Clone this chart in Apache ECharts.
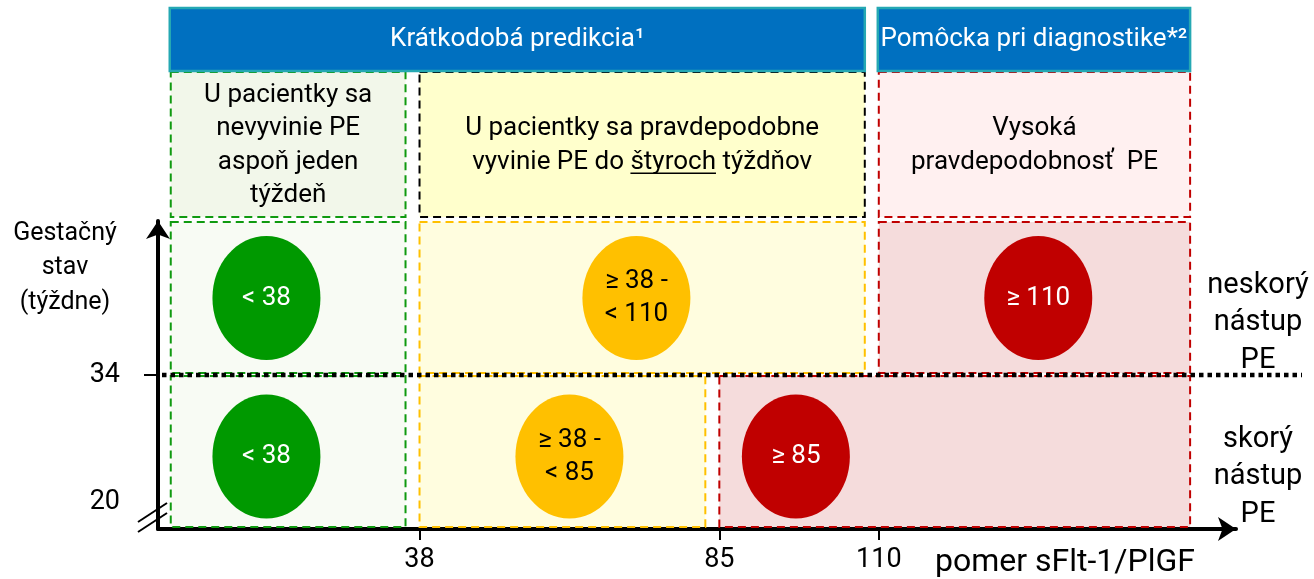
<!DOCTYPE html>
<html><head><meta charset="utf-8">
<script src="https://cdn.jsdelivr.net/npm/echarts@6/dist/echarts.min.js"></script>
<style>html,body{margin:0;padding:0;background:#fff}#c{width:1314px;height:579px}</style>
</head><body><div id="c"></div>
<script>
// ---- data ----
const ratioTicks = [38, 85, 110];
const weekLabels = [20, 34];
const weekTicks = [34];
const weekSplit = 34;
const weekRange = [17, 51];
const ratioAxisRange = [-3, 166];
const lateZones = [[-1, 38], [38, 110], [110, 161]];
const earlyZones = [[-1, 38], [38, 85], [85, 161]];
const zoneTones = ['green', 'yellow', 'red'];
const lateBadges = ['< 38', '≥ 38 -\n< 110', '≥ 110'];
const earlyBadges = ['< 38', '≥ 38 -\n< 85', '≥ 85'];
const lateBadgeAt = [14, 72, 135];
const earlyBadgeAt = [14, 61.5, 97];
const lateBadgeWeek = 42.5;
const earlyBadgeWeek = 25;
const headerSpans = [[-1, 110], [110, 161]];
const headerTexts = ['Krátkodobá predikcia¹', 'Pomôcka pri diagnostike*²'];
const descSpans = [[-1, 38], [38, 110], [110, 161]];
const descTexts = ['U pacientky sa\nnevyvinie PE\naspoň jeden\ntýždeň', 'U pacientky sa pravdepodobne\nvyvinie PE do štyroch týždňov', 'Vysoká\npravdepodobnosť  PE'];
const descTones = ['green', 'black', 'red'];
const underlinedWord = 'štyroch';
const rowLabels = ['neskorý\nnástup\nPE', 'skorý\nnástup\nPE'];
const yAxisTitle = 'Gestačný\nstav\n(týždne)';
const xAxisTitle = 'pomer sFlt-1/PlGF';

// ---- styles ----
const FONT = 'Roboto, "Noto Sans", sans-serif';
const TONES = {
  green: {border: '#109a10', descFill: '#f2f7ea', plotFill: '#f8fbf4', badge: '#009900', text: '#ffffff'},
  yellow: {border: '#ffc000', descFill: '#ffffcc', plotFill: '#fffddf', badge: '#ffc000', text: '#000000'},
  red: {border: '#c00000', descFill: '#fff0f0', plotFill: '#f5dcdc', badge: '#c00000', text: '#ffffff'},
  black: {border: '#000000', descFill: '#ffffcc'}
};
const DASH = [8, 5];
const RIGHT_GAP = 14;

// build zone + badge items
const zoneItems = [], badgeItems = [];
[[lateZones, weekSplit, weekRange[1], lateBadges, lateBadgeAt, lateBadgeWeek],
 [earlyZones, weekRange[0], weekSplit, earlyBadges, earlyBadgeAt, earlyBadgeWeek]].forEach(r => {
  r[0].forEach((z, i) => {
    zoneItems.push({value: [z[0], r[1], z[1], r[2]], tone: zoneTones[i]});
    badgeItems.push({value: [r[4][i], r[5]], tone: zoneTones[i], text: r[3][i]});
  });
});

function measure(text, size) {
  const c = document.createElement('canvas').getContext('2d');
  c.font = size + 'px Roboto';
  return c.measureText(text).width;
}

const chart = echarts.init(document.getElementById('c'), null, {renderer: 'canvas'});
chart.setOption({
  animation: false,
  backgroundColor: '#ffffff',
  grid: {left: 158, right: 78, top: 221, bottom: 50, containLabel: false, outerBoundsMode: 'none'},
  xAxis: {
    type: 'value', min: ratioAxisRange[0], max: ratioAxisRange[1],
    splitLine: {show: false},
    axisLine: {show: true, onZero: false, symbol: ['none', 'arrow'], symbolSize: [18, 18], lineStyle: {color: '#000', width: 4}},
    axisTick: {show: true, customValues: ratioTicks, length: 11, lineStyle: {color: '#000', width: 2}},
    axisLabel: {show: true, customValues: ratioTicks, margin: 18, fontSize: 27, color: '#000', fontFamily: FONT}
  },
  yAxis: {
    type: 'value', min: weekRange[0], max: weekRange[1],
    splitLine: {show: false},
    axisLine: {show: true, onZero: false, symbol: ['none', 'arrow'], symbolSize: [18, 18], lineStyle: {color: '#000', width: 4}},
    axisTick: {show: true, customValues: weekTicks, length: 14, lineStyle: {color: '#000', width: 2}},
    axisLabel: {show: true, customValues: weekLabels, margin: 38, fontSize: 27, color: '#000', fontFamily: FONT}
  },
  graphic: [
    {type: 'text', x: 65, y: 268, z: 10, style: {text: yAxisTitle, fontSize: 25, lineHeight: 34.5, fontFamily: FONT, fill: '#000', align: 'center', verticalAlign: 'middle'}},
    {type: 'text', x: 1065, y: 563, z: 10, style: {text: xAxisTitle, fontSize: 32, fontFamily: FONT, fill: '#000', align: 'center', verticalAlign: 'middle'}}
  ],
  series: [
    { // zones in the chart area
      type: 'custom', z: 1, clip: false,
      data: zoneItems.map(d => d.value),
      renderItem(params, api) {
        const it = zoneItems[params.dataIndex];
        const t = TONES[it.tone];
        const p0 = api.coord([api.value(0), api.value(3)]);
        const p1 = api.coord([api.value(2), api.value(1)]);
        const x = p0[0], y = p0[1] + 1;
        const w = p1[0] - RIGHT_GAP - x, h = p1[1] - 2 - y;
        return {type: 'rect', shape: {x, y, width: w, height: h},
          style: {fill: t.plotFill, stroke: t.border, lineWidth: 2, lineDash: DASH}};
      }
    },
    { // description boxes above the chart
      type: 'custom', z: 2, clip: false,
      data: descSpans.map(s => [s[0], s[1]]),
      renderItem(params, api) {
        const i = params.dataIndex;
        const t = TONES[descTones[i]];
        const top = api.coord([0, weekRange[1]])[1];
        const x0 = api.coord([api.value(0), weekRange[1]])[0];
        const x1 = api.coord([api.value(1), weekRange[1]])[0] - RIGHT_GAP;
        const y0 = top - 149, y1 = top - 4;
        const cx = (x0 + x1) / 2, cy = (y0 + y1) / 2 + 1;
        const children = [
          {type: 'rect', shape: {x: x0, y: y0, width: x1 - x0, height: y1 - y0},
            style: {fill: t.descFill, stroke: t.border, lineWidth: 2, lineDash: DASH}},
          {type: 'text', style: {text: descTexts[i], x: cx, y: cy, fill: '#000', fontSize: 26, lineHeight: 33.5,
            fontFamily: FONT, align: 'center', verticalAlign: 'middle'}}
        ];
        const lines = descTexts[i].split('\n');
        lines.forEach((ln, li) => {
          const k = ln.indexOf(underlinedWord);
          if (k >= 0) {
            const full = measure(ln, 26), pre = measure(ln.slice(0, k), 26), ww = measure(underlinedWord, 26);
            const ly = cy + (li - (lines.length - 1) / 2) * 33.5 + 11;
            const lx = cx - full / 2 + pre;
            children.push({type: 'line', shape: {x1: lx, y1: ly, x2: lx + ww, y2: ly}, style: {stroke: '#000', lineWidth: 1.6}});
          }
        });
        return {type: 'group', children};
      }
    },
    { // header bars
      type: 'custom', z: 3, clip: false,
      data: headerSpans.map(s => [s[0], s[1]]),
      renderItem(params, api) {
        const i = params.dataIndex;
        const top = api.coord([0, weekRange[1]])[1];
        const x0 = api.coord([api.value(0), weekRange[1]])[0] - 1;
        const x1 = api.coord([api.value(1), weekRange[1]])[0] - RIGHT_GAP;
        const y0 = top - 213, y1 = top - 150;
        return {type: 'group', children: [
          {type: 'rect', shape: {x: x0, y: y0, width: x1 - x0, height: y1 - y0},
            style: {fill: '#0070c0', stroke: '#25a8b3', lineWidth: 2.5}},
          {type: 'text', style: {text: headerTexts[i], x: (x0 + x1) / 2, y: (y0 + y1) / 2, fill: '#fff', fontSize: 26,
            fontFamily: FONT, align: 'center', verticalAlign: 'middle'}}
        ]};
      }
    },
    { // dotted 34-week split line
      type: 'custom', z: 4, clip: false,
      data: [[ratioAxisRange[0], weekSplit]],
      renderItem(params, api) {
        const p = api.coord([api.value(0), api.value(1)]);
        return {type: 'line', shape: {x1: p[0] + 4, y1: p[1], x2: api.getWidth() - 12, y2: p[1]},
          style: {stroke: '#000', lineWidth: 4.5, lineDash: [4.5, 4]}};
      }
    },
    { // axis break mark
      type: 'custom', z: 5, clip: false,
      data: [[ratioAxisRange[0], weekRange[0]]],
      renderItem(params, api) {
        const p = api.coord([api.value(0), api.value(1)]);
        const seg = dy => ({type: 'line', shape: {x1: p[0] - 20, y1: p[1] + dy, x2: p[0] + 9, y2: p[1] + dy - 19},
          style: {stroke: '#000', lineWidth: 2}});
        return {type: 'group', children: [seg(-7), seg(3)]};
      }
    },
    { // row labels on the right
      type: 'custom', z: 5, clip: false,
      data: [[ratioAxisRange[1], (weekSplit + weekRange[1]) / 2], [ratioAxisRange[1], (weekRange[0] + weekSplit) / 2]],
      renderItem(params, api) {
        const p = api.coord([api.value(0), api.value(1)]);
        return {type: 'text', style: {text: rowLabels[params.dataIndex], x: 1258, y: p[1] + 25, fill: '#000',
          fontSize: 29, lineHeight: 37.5, fontFamily: FONT, align: 'center', verticalAlign: 'middle'}};
      }
    },
    { // badges
      type: 'custom', z: 6, clip: false,
      data: badgeItems.map(d => d.value),
      renderItem(params, api) {
        const it = badgeItems[params.dataIndex];
        const t = TONES[it.tone];
        const p = api.coord([api.value(0), api.value(1)]);
        return {type: 'group', children: [
          {type: 'ellipse', shape: {cx: p[0], cy: p[1], rx: 54, ry: 62}, style: {fill: t.badge}},
          {type: 'text', style: {text: it.text, x: p[0], y: p[1], fill: t.text, fontSize: 26, lineHeight: 33,
            fontFamily: FONT, align: 'center', verticalAlign: 'middle'}}
        ]};
      }
    }
  ]
});
</script></body></html>
